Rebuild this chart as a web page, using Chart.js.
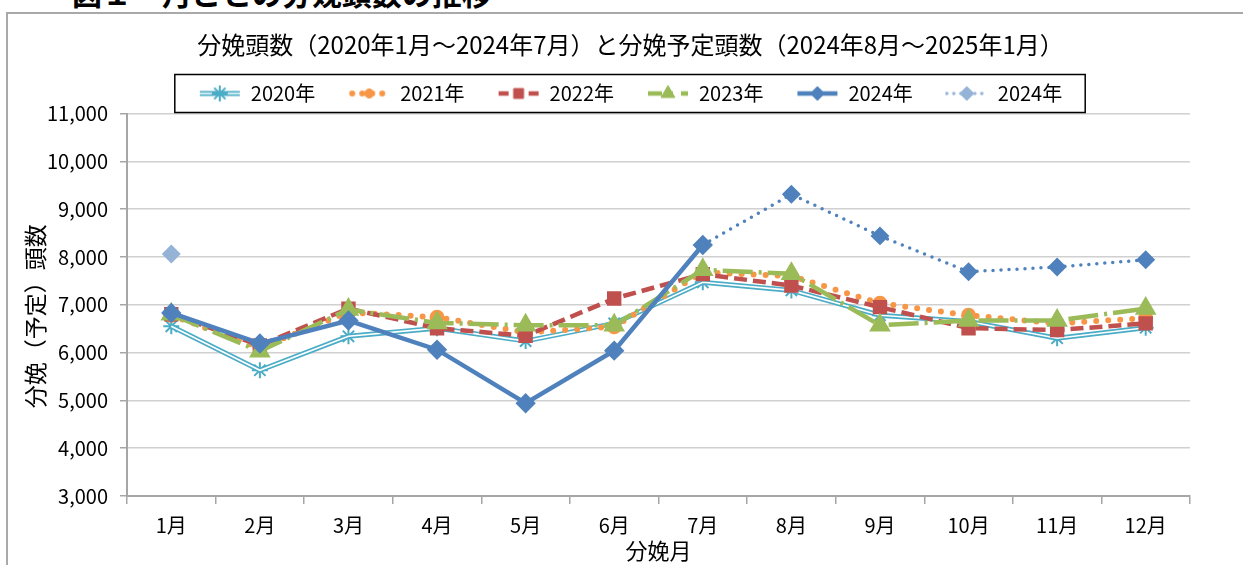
<!DOCTYPE html>
<html><head><meta charset="utf-8">
<script src="https://cdn.jsdelivr.net/npm/chart.js@4.4.1/dist/chart.umd.min.js"></script>
<style>
html,body{margin:0;padding:0;background:#fff;overflow:hidden;width:1243px;height:565px;}
#frame{position:absolute;left:6px;top:12px;width:1400px;height:700px;border-left:2px solid #A9A9A9;border-top:2px solid #A9A9A9;}
#heading{position:absolute;left:72px;top:-23px;font-weight:bold;font-size:30px;font-family:"Noto Sans CJK JP",sans-serif;line-height:30px;white-space:nowrap;color:#000;}
#wrap{position:absolute;left:0;top:0;width:1243px;height:565px;}
</style></head><body>
<div id="heading">図１　月ごとの分娩頭数の推移</div>
<div id="frame"></div>
<div id="wrap"><canvas id="c" width="1243" height="565"></canvas></div>
<script>
const months = ['1月','2月','3月','4月','5月','6月','7月','8月','9月','10月','11月','12月'];
const seriesNames = ['2020年','2021年','2022年','2023年','2024年','2024年'];
const s2020 = [6550, 5630, 6340, 6510, 6240, 6610, 7470, 7300, 6780, 6650, 6300, 6520];
const s2021 = [6780, 6100, 6840, 6740, 6420, 6540, 7680, 7600, 7030, 6780, 6610, 6720];
const s2022 = [6800, 6150, 6920, 6510, 6350, 7130, 7640, 7400, 6950, 6510, 6470, 6610];
const s2023 = [6800, 6030, 6900, 6620, 6570, 6570, 7730, 7650, 6570, 6670, 6670, 6920];
const s2024 = [6830, 6190, 6670, 6060, 4940, 6040, 8250, null, null, null, null, null];
const s2024plan = [8060, null, null, null, null, null, 8250, 9310, 8440, 7690, 7790, 7940];
const yTicks = [3000, 4000, 5000, 6000, 7000, 8000, 9000, 10000, 11000];
const titleText = '分娩頭数（2020年1月～2024年7月）と分娩予定頭数（2024年8月～2025年1月）';
const xTitle = '分娩月';
const yTitle = '分娩（予定）頭数　';

const FONT = '"Noto Sans CJK JP","Noto Sans",sans-serif';
const C2020='#4BACC6', C2021='#F79646', C2022='#C0504D', C2023='#9BBB59', C2024='#4F81BD', C2024L='#95B3D7';
const LEG_FONT = 20, LEG_PAD = 33;

function makeIcon(spec){
  const c=document.createElement('canvas'); c.width=44; c.height=20;
  const g=c.getContext('2d');
  g.lineCap=spec.cap||'butt';
  g.setLineDash(spec.dash||[]);
  g.strokeStyle=spec.color; g.lineWidth=spec.width;
  g.beginPath(); g.moveTo(spec.x0||2,10); g.lineTo(spec.x1||42,10); g.stroke();
  if(spec.inner){ g.strokeStyle='#fff'; g.lineWidth=spec.inner; g.beginPath(); g.moveTo(2,10); g.lineTo(42,10); g.stroke(); }
  g.setLineDash([]); g.lineCap='butt';
  g.fillStyle=spec.pointColor; g.strokeStyle=spec.pointColor; g.lineWidth=spec.pbw||1;
  Chart.helpers.drawPoint(g,{pointStyle:spec.ps,radius:spec.r,rotation:0,borderWidth:spec.pbw||1},22,10);
  return c;
}

const datasets = [
  {label:seriesNames[0], data:s2020, borderColor:C2020, backgroundColor:C2020, borderWidth:5, pointStyle:'star', pointRadius:8, pointBorderWidth:2, pointBorderColor:C2020, order:70},
  {label:seriesNames[1], data:s2021, borderColor:C2021, backgroundColor:C2021, borderWidth:6, borderDash:[0,12], borderCapStyle:'round', pointStyle:'circle', pointRadius:4.5, pointBorderColor:C2021, pointBackgroundColor:C2021, order:50},
  {label:seriesNames[2], data:s2022, borderColor:C2022, backgroundColor:C2022, borderWidth:4.5, borderDash:[13,6], pointStyle:'rect', pointRadius:7, pointBorderColor:C2022, pointBackgroundColor:C2022, order:40},
  {label:seriesNames[3], data:s2023, borderColor:C2023, backgroundColor:C2023, borderWidth:4.5, borderDash:[30,6,3,6], pointStyle:'triangle', pointRadius:8, pointBorderColor:C2023, pointBackgroundColor:C2023, order:30},
  {label:seriesNames[4], data:s2024, borderColor:C2024, backgroundColor:C2024, borderWidth:4.5, pointStyle:'rectRot', pointRadius:7, pointBorderColor:C2024, pointBackgroundColor:C2024, order:10},
  {label:seriesNames[5], data:s2024plan, borderColor:C2024, backgroundColor:C2024, borderWidth:3.5, borderDash:[0,8], borderCapStyle:'round', spanGaps:false, pointStyle:'rectRot', pointRadius:7,
    pointBorderColor:s2024plan.map((v,i)=>i===0?C2024L:C2024), pointBackgroundColor:s2024plan.map((v,i)=>i===0?C2024L:C2024), order:20},
  {label:'_inner', data:s2020, borderColor:'#fff', borderWidth:1.6, pointRadius:0, order:60, hideInLegend:true}
];

const icons = [
  makeIcon({color:C2020,width:5,inner:1.6,ps:'star',r:8,pbw:2,pointColor:C2020}),
  makeIcon({color:C2021,width:6,dash:[0,10],cap:'round',x0:5,x1:40,ps:'circle',r:4.5,pointColor:C2021}),
  makeIcon({color:C2022,width:4.5,dash:[10,5],ps:'rect',r:7,pointColor:C2022}),
  makeIcon({color:C2023,width:4.5,dash:[14,8,3,8],ps:'triangle',r:8,pointColor:C2023}),
  makeIcon({color:C2024,width:4.5,ps:'rectRot',r:7,pointColor:C2024}),
  makeIcon({color:C2024L,width:3.5,dash:[0,7],cap:'round',ps:'rectRot',r:7,pointColor:C2024L})
];

// shift title & legend block to the right (the reference centres them off the plot)
const shiftTop = {
  id:'shiftTop',
  afterLayout(chart){
    const d = 35.5;
    [chart.titleBlock, chart.legend].forEach(b=>{ if(b){ b.left += d; b.right += d; } });
  }
};

const legendFrame = {
  id:'legendFrame',
  afterDraw(chart){
    const lg=chart.legend; if(!lg||!lg.lineWidths) return;
    const pad=LEG_PAD;
    const x0=(lg.left+pad+lg.right-lg.lineWidths[0])/2;
    const x1=x0+lg.lineWidths[0]-pad;
    const cy=lg.top+pad+LEG_FONT/2;
    const ctx=chart.ctx; ctx.save(); ctx.strokeStyle='#000'; ctx.lineWidth=1.5;
    ctx.strokeRect(x0-24, cy-19, (x1+23)-(x0-24), 38);
    ctx.restore();
  }
};

const defaultGen = Chart.defaults.plugins.legend.labels.generateLabels;

new Chart(document.getElementById('c'), {
  type:'line',
  data:{labels:months, datasets:datasets},
  options:{
    responsive:false, animation:false, devicePixelRatio:1,
    elements:{line:{tension:0}},
    layout:{padding:{left:0,right:53,top:0,bottom:0}},
    plugins:{
      tooltip:{enabled:false},
      title:{display:true, text:titleText, color:'#000', font:{family:FONT,size:24,weight:'normal',lineHeight:0.5}, padding:{top:38.5,bottom:0}},
      legend:{
        display:true, position:'top',
        labels:{
          usePointStyle:true, pointStyleWidth:42, padding:LEG_PAD, color:'#000',
          font:{family:FONT,size:LEG_FONT},
          generateLabels(chart){
            const items = defaultGen(chart).filter(it=>!chart.data.datasets[it.datasetIndex].hideInLegend);
            items.sort((a,b)=>a.datasetIndex-b.datasetIndex);
            items.forEach(it=>{ it.pointStyle = icons[it.datasetIndex]; it.fontColor='#000'; });
            return items;
          }
        }
      }
    },
    scales:{
      x:{
        offset:true,
        grid:{offset:true, drawOnChartArea:false, drawTicks:true, tickLength:8, color:'#A6A6A6', lineWidth:1.5},
        border:{color:'#A6A6A6', width:2},
        ticks:{color:'#000', font:{family:FONT,size:20}, padding:9.5, maxRotation:0, autoSkip:false},
        title:{display:true, text:xTitle, color:'#000', font:{family:FONT,size:22}, padding:{top:0,bottom:1}},
        afterFit(s){ s.height = 69; }
      },
      y:{
        min:yTicks[0], max:yTicks[yTicks.length-1],
        afterBuildTicks(s){ s.ticks = yTicks.map(v=>({value:v})); },
        ticks:{color:'#000', font:{family:FONT,size:20}, padding:12, callback:v=>v.toLocaleString('en-US')},
        grid:{color:'#D0D0D0', lineWidth:1.5, tickLength:7, tickColor:'#A6A6A6'},
        border:{color:'#A6A6A6', width:2},
        title:{display:true, text:yTitle, color:'#000', font:{family:FONT,size:23}, padding:{top:21.2,bottom:0}},
        afterFit(s){ s.width = 127; }
      }
    }
  },
  plugins:[shiftTop, legendFrame]
});
</script>
</body></html>
